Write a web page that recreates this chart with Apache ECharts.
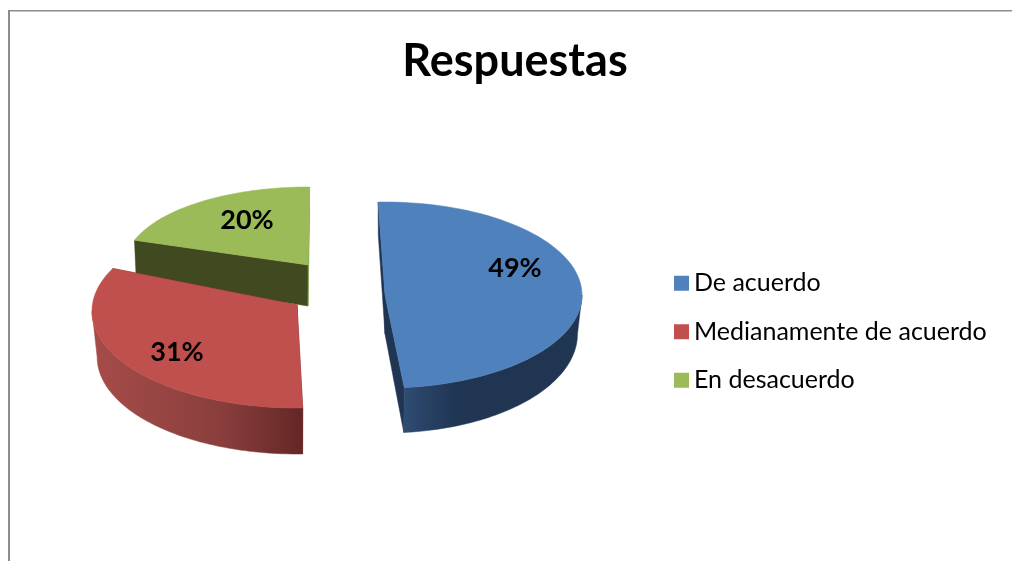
<!DOCTYPE html>
<html>
<head>
<meta charset="utf-8">
<style>html,body{margin:0;padding:0;background:#fff}#c{width:1012px;height:561px}</style>
<script src="https://cdn.jsdelivr.net/npm/echarts@6/dist/echarts.min.js"></script>
</head>
<body>
<div id="c"></div>
<script>
var categories = ['De acuerdo', 'Medianamente de acuerdo', 'En desacuerdo'];
var values = [49, 31, 20];
var colors = ['#4f81bd', '#c0504d', '#9bbb59'];

// Layout of the exploded 3D view (one ellipse per slice, near slices appear larger).
// warp widens a slice's apparent sweep, as the perspective of the 3D view does.
var layout = [
  {cx: 385, cy: 295, ax: 385, ay: 295, rx: 197, ry: 93, turn: -2, warp: 1, d0: 39, d1: 6, k: 0.977, lx: 515, ly: 268,
   face: '#1f3552', end: '#1f3552', rim: ['#2f4c72', '#1f3553', '#1f3552']},
  {cx: 297, cy: 311, ax: 297, ay: 305, rx: 205, ry: 97, turn: 2, warp: 1.054, d0: 46, d1: 0, k: 0.975, lx: 177, ly: 352,
   face: '#652826', end: '#652826', rim: ['#a64c49', '#8a3f3d', '#642725']},
  {cx: 308, cy: 265, ax: 308, ay: 265, rx: 183, ry: 78, turn: 0.5, warp: 1, d0: 41, d1: 8, k: 0.99, lx: 247, ly: 220,
   face: '#40491f', end: '#7f9a47', rim: ['#40491f', '#40491f', '#40491f']}
];

var total = values.reduce(function (a, b) { return a + b; }, 0);

function renderSlice(i) {
  return function (params, api) {
    var value = api.value(0), L = layout[i], before = 0;
    for (var j = 0; j < i; j++) before += values[j];
    var a0 = before / total * 360 + L.turn;
    var a1 = a0 + value / total * 360 * L.warp;
    function top(t) {
      var r = t * Math.PI / 180;
      return [L.cx + L.rx * Math.sin(r), L.cy - L.ry * Math.cos(r)];
    }
    function bottom(t) {
      var r = t * Math.PI / 180;
      return [L.cx + L.rx * L.k * Math.sin(r), L.cy - L.ry * Math.cos(r) + L.d0 - L.d1 * Math.cos(r)];
    }
    var C = [L.ax, L.ay], Cb = [L.ax, L.ay + L.d0];
    var children = [];
    function poly(points, fill, z2) {
      children.push({type: 'polygon', z2: z2, shape: {points: points}, style: {fill: fill, stroke: fill, lineWidth: 0.5}});
    }
    // cut faces
    poly([C, top(a0), bottom(a0), Cb], L.face, 1);
    poly([C, top(a1), bottom(a1), Cb], L.end, 1);
    // outer rim, only the part facing the viewer
    var from = Math.max(a0, 90), to = Math.min(a1, 270);
    if (to > from) {
      var up = [], down = [];
      for (var s = 0; s <= 60; s++) {
        var t = from + (to - from) * s / 60;
        up.push(top(t));
        down.unshift(bottom(t));
      }
      var g = i === 0
        ? new echarts.graphic.LinearGradient(1, 0, 0, 0, [
            {offset: 0, color: L.rim[2]},
            {offset: 0.7, color: L.rim[1]},
            {offset: 1, color: L.rim[0]}
          ])
        : new echarts.graphic.LinearGradient(0, 0, 1, 0, [
            {offset: 0, color: L.rim[0]},
            {offset: 0.6, color: L.rim[1]},
            {offset: 1, color: L.rim[2]}
          ]);
      poly(up.concat(down), g, 2);
    }
    // top surface
    var pts = [C];
    for (var n = 0; n <= 80; n++) pts.push(top(a0 + (a1 - a0) * n / 80));
    poly(pts, colors[i], 3);
    // percentage label
    children.push({
      type: 'text', z2: 4,
      style: {
        x: L.lx, y: L.ly, text: Math.round(value / total * 100) + '%',
        fill: '#000', font: 'bold 27px Lato, "Open Sans", sans-serif',
        align: 'center', verticalAlign: 'middle'
      }
    });
    return {type: 'group', children: children};
  };
}

var series = categories.map(function (name, i) {
  return {
    type: 'custom',
    name: name,
    coordinateSystem: 'none',
    z: 2 + (i === 0 ? 2 : i === 1 ? 1 : 0),
    silent: true,
    itemStyle: {color: colors[i]},
    data: [[values[i]]],
    renderItem: renderSlice(i)
  };
});

var chart = echarts.init(document.getElementById('c'), null, {renderer: 'canvas'});
chart.setOption({
  backgroundColor: '#fff',
  animation: false,
  tooltip: {show: false},
  title: {
    text: 'Respuestas',
    left: 510, top: 34, textAlign: 'center',
    textStyle: {fontFamily: 'Lato, "Open Sans", sans-serif', fontWeight: 'bold', fontSize: 45, color: '#000'}
  },
  legend: {
    orient: 'vertical',
    left: 674, top: 269,
    padding: 0,
    icon: 'rect',
    itemWidth: 15, itemHeight: 15, itemGap: 20,
    selectedMode: false,
    data: categories,
    textStyle: {fontFamily: 'Lato, "Open Sans", sans-serif', fontSize: 25, color: '#000', lineHeight: 28.5}
  },
  graphic: [
    {type: 'rect', silent: true, shape: {x: 8, y: 10, width: 1004, height: 1.4}, style: {fill: '#8c8c8c'}},
    {type: 'rect', silent: true, shape: {x: 8, y: 10, width: 2, height: 551}, style: {fill: '#8c8c8c'}}
  ],
  series: series
});
</script>
</body>
</html>
